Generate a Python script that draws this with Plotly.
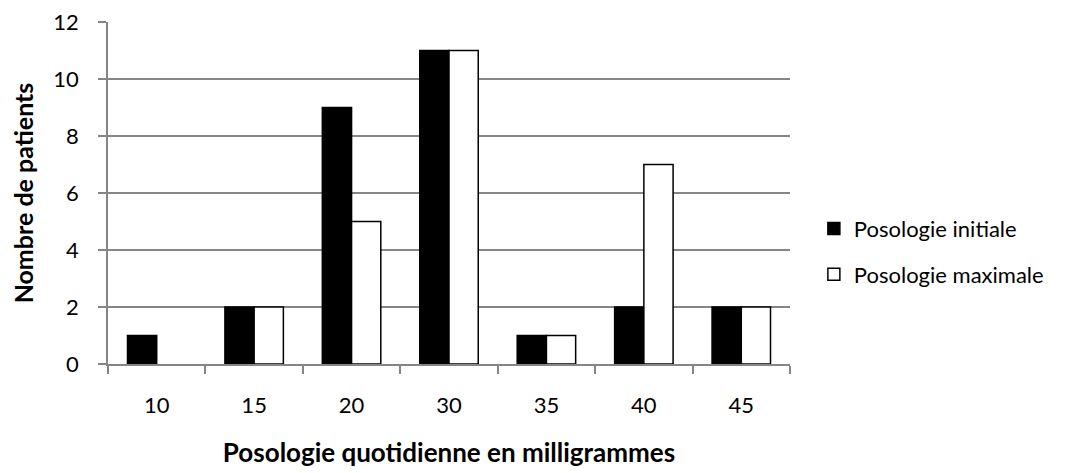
import plotly.graph_objects as go

categories = ["10", "15", "20", "30", "35", "40", "45"]
initiale = [1, 2, 9, 11, 1, 2, 2]
maximale = [0, 2, 5, 11, 1, 7, 2]

font = "Lato"


def shown(vals):
    # a zero count draws no bar at all in the reference
    return [v if v else None for v in vals]


fig = go.Figure()
fig.add_trace(go.Bar(x=categories, y=shown(initiale), name="Posologie initiale", legendgroup="a",
                     marker=dict(color="black", line=dict(color="black", width=1.5))))
fig.add_trace(go.Bar(x=categories, y=shown(maximale), name="Posologie maximale", legendgroup="b",
                     marker=dict(color="white", line=dict(color="black", width=1.5))))

fig.update_layout(
    width=1072, height=473,
    margin=dict(l=100, r=290, t=14, b=117, autoexpand=False),
    paper_bgcolor="white", plot_bgcolor="white",
    barmode="group", bargap=0.4, bargroupgap=0,
    font=dict(family=font, size=22, color="black"),
    legend=dict(x=1.035, y=0.328, yanchor="middle", xanchor="left",
                font=dict(size=22), tracegroupgap=14, traceorder="grouped"),
    showlegend=True,
)
fig.update_xaxes(
    type="category", tickson="boundaries", ticks="outside", ticklen=8,
    tickcolor="#868686", tickwidth=1.5,
    showline=True, linecolor="#868686", linewidth=1.5,
    showgrid=False, ticklabelstandoff=21, tickfont=dict(size=22),
    automargin=False,
    title=dict(text="<b>Posologie quotidienne en milligrammes</b>", standoff=27,
               font=dict(size=26)),
)
fig.update_yaxes(
    range=[0, 12], dtick=2, ticks="outside", ticklen=8,
    tickcolor="#868686", tickwidth=1.5,
    showline=True, linecolor="#868686", linewidth=1.5,
    showgrid=True, gridcolor="#868686", gridwidth=1.5,
    zeroline=False, ticklabelstandoff=15, tickfont=dict(size=22),
    ticklabeloverflow="allow", automargin=False,
    title=dict(text="<b>Nombre de patients</b>", standoff=19, font=dict(size=25)),
)

fig.write_html("out.html")
